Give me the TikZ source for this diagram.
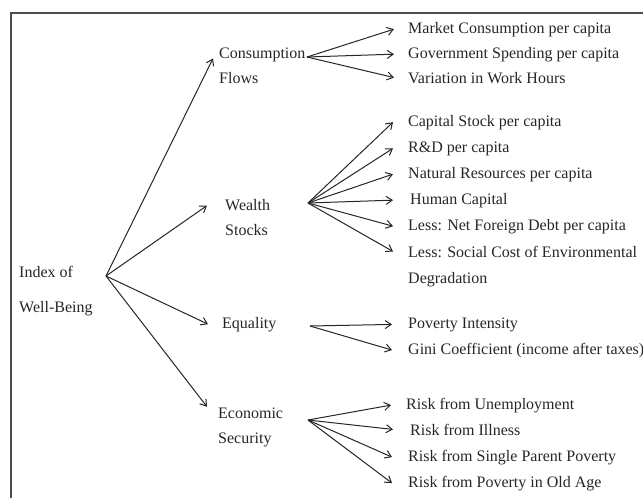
\documentclass[tikz,border=0pt]{standalone}
\usepackage{fontspec}
\setmainfont{Liberation Serif}
\usetikzlibrary{arrows.meta,calc}
\begin{document}
\begin{tikzpicture}[x=1pt,y=-1pt,
  lbl/.style={anchor=base west,inner sep=0pt,font=\fontsize{16}{18}\selectfont,text=black!85},
  arr/.style={-{Straight Barb[length=6pt,width=8pt]},line width=1pt,draw=black!85},
  frame/.style={line width=1.3pt,draw=black!70}]
\useasboundingbox (0,0) rectangle (643,498);
\draw[frame] (11,498) -- (11,13) -- (643,13);
% left
\node[lbl] (idx1) at (19,277) {Index of};
\node[lbl] (idx2) at (19,312) {Well-Being};
% middle
\node[lbl] (cons) at (219,58) {Consumption};
\node[lbl] (flows) at (219,83) {Flows};
\node[lbl] (wea) at (225,210) {Wealth};
\node[lbl] (stocks) at (225,235) {Stocks};
\node[lbl] (equ) at (222,328) {Equality};
\node[lbl] (eco) at (218,418) {Economic};
\node[lbl] (sec) at (218,443) {Security};
% right
\node[lbl] (market) at (408,33) {Market Consumption per capita};
\node[lbl] (gov) at (408,58) {Government Spending per capita};
\node[lbl] (var) at (408,83) {Variation in Work Hours};
\node[lbl] (cap) at (408,126) {Capital Stock per capita};
\node[lbl] (rd) at (408,152) {R\&D per capita};
\node[lbl] (nat) at (408,178) {Natural Resources per capita};
\node[lbl] (hum) at (410,204) {Human Capital};
\node[lbl] (lnet) at (408,230) {Less: Net Foreign Debt per capita};
\node[lbl] (lsoc) at (408,257) {Less: Social Cost of Environmental};
\node[lbl] (degr) at (408,283) {Degradation};
\node[lbl] (pov) at (408,328) {Poverty Intensity};
\node[lbl] (gini) at (408,354) {Gini Coefficient (income after taxes)};
\node[lbl] (unemp) at (406,409) {Risk from Unemployment};
\node[lbl] (ill) at (410,435) {Risk from Illness};
\node[lbl] (single) at (408,461) {Risk from Single Parent Poverty};
\node[lbl] (old) at (408,487) {Risk from Poverty in Old Age};
% hubs
\coordinate (hidx) at (106,276);
\coordinate (hcons) at (307,57);
\coordinate (hwea) at (308,203);
\coordinate (hequ) at (310,326);
\coordinate (heco) at (308,420);
% index arrows
\draw[arr] (hidx) -- ($(cons.west)+(-6,4)$);
\draw[arr] (hidx) -- ($(wea.west)+(-18,1)$);
\draw[arr] (hidx) -- ($(equ.west)+(-14,0)$);
\draw[arr] (hidx) -- ($(eco.west)+(-11,-6)$);
% consumption
\draw[arr] (hcons) -- ($(market.west)+(-14,0)$);
\draw[arr] (hcons) -- ($(gov.west)+(-14,0)$);
\draw[arr] (hcons) -- ($(var.west)+(-14,0)$);
% wealth
\draw[arr] (hwea) -- ($(cap.west)+(-15,0)$);
\draw[arr] (hwea) -- ($(rd.west)+(-15,0)$);
\draw[arr] (hwea) -- ($(nat.west)+(-15,0)$);
\draw[arr] (hwea) -- ($(hum.west)+(-17,0)$);
\draw[arr] (hwea) -- ($(lnet.west)+(-15,0)$);
\draw[arr] (hwea) -- ($(lsoc.west)+(-15,0)$);
% equality
\draw[arr] (hequ) -- ($(pov.west)+(-16,0)$);
\draw[arr] (hequ) -- ($(gini.west)+(-16,0)$);
% economic security
\draw[arr] (heco) -- ($(unemp.west)+(-15,0)$);
\draw[arr] (heco) -- ($(ill.west)+(-17,0)$);
\draw[arr] (heco) -- ($(single.west)+(-16,0)$);
\draw[arr] (heco) -- ($(old.west)+(-16,0)$);
\end{tikzpicture}
\end{document}
